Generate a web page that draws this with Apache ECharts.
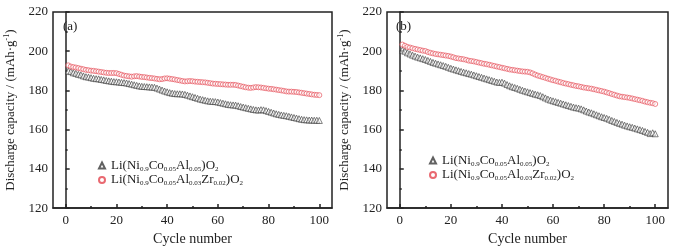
<!DOCTYPE html>
<html>
<head>
<meta charset="utf-8">
<script src="https://cdn.jsdelivr.net/npm/echarts@6/dist/echarts.min.js"></script>
<style>
  html, body { margin: 0; padding: 0; background: #fff; }
  #chart { width: 678px; height: 251px; }
</style>
</head>
<body>
<div id="chart"></div>
<script>
// ==================== 数据 ====================
const xTicks = [0, 20, 40, 60, 80, 100];
const xMinor = [10, 30, 50, 70, 90];

// (a) 面板
const aNCA = [
  189.9, 189.6, 189.0, 188.7, 188.2, 187.9, 187.4, 187.0, 186.8, 186.5,
  186.2, 186.0, 185.9, 185.6, 185.4, 185.1, 184.9, 184.7, 184.5, 184.4,
  184.3, 184.1, 184.0, 183.8, 183.5, 183.2, 182.9, 182.6, 182.3, 182.1,
  182.0, 181.9, 181.8, 181.7, 181.6, 181.2, 180.7, 180.2, 179.7, 179.3,
  178.9, 178.6, 178.4, 178.3, 178.3, 178.2, 178.0, 177.6, 177.2, 176.8,
  176.4, 176.0, 175.6, 175.3, 175.0, 174.7, 174.5, 174.4, 174.3, 174.1,
  173.8, 173.5, 173.2, 172.9, 172.7, 172.6, 172.5, 172.2, 171.8, 171.5,
  171.2, 170.9, 170.6, 170.3, 170.1, 170.0, 170.2, 170.1, 169.7, 169.3,
  168.9, 168.5, 168.1, 167.8, 167.5, 167.3, 167.1, 166.8, 166.5, 166.2,
  165.9, 165.6, 165.3, 165.1, 165.0, 164.9, 164.9, 164.8, 164.8, 164.7
];
const aNCAZ = [
  192.8, 192.2, 191.9, 191.7, 191.4, 191.1, 190.8, 190.5, 190.3, 190.1,
  190.0, 189.8, 189.6, 189.4, 189.2, 189.0, 188.9, 188.9, 188.9, 188.8,
  188.4, 188.0, 187.6, 187.4, 187.2, 187.0, 187.2, 187.3, 187.1, 186.9,
  186.8, 186.6, 186.4, 186.3, 186.1, 185.9, 185.7, 185.8, 186.1, 186.2,
  186.0, 185.8, 185.6, 185.3, 185.1, 184.8, 184.6, 184.7, 184.8, 184.7,
  184.5, 184.4, 184.3, 184.2, 184.1, 183.9, 183.7, 183.5, 183.4, 183.3,
  183.2, 183.1, 183.0, 182.9, 182.9, 182.9, 182.8, 182.5, 182.2, 181.9,
  181.6, 181.4, 181.3, 181.5, 181.7, 181.6, 181.5, 181.3, 181.1, 180.9,
  180.8, 180.6, 180.4, 180.2, 180.0, 179.8, 179.5, 179.4, 179.4, 179.3,
  179.2, 179.0, 178.8, 178.6, 178.4, 178.2, 178.0, 177.8, 177.7, 177.6
];

// (b) 面板
const bNCA = [
  200.6, 200.0, 199.2, 198.6, 198.0, 197.5, 197.0, 196.6, 196.2, 195.8,
  195.3, 194.8, 194.3, 193.9, 193.5, 193.1, 192.7, 192.3, 191.8, 191.3,
  190.9, 190.5, 190.1, 189.7, 189.3, 189.0, 188.6, 188.3, 187.9, 187.5,
  187.1, 186.7, 186.3, 185.9, 185.5, 185.1, 184.7, 184.3, 184.1, 184.2,
  183.7, 183.0, 182.4, 181.9, 181.5, 181.1, 180.6, 180.1, 179.7, 179.3,
  178.9, 178.5, 178.1, 177.8, 177.4, 176.8, 176.2, 175.6, 175.1, 174.7,
  174.3, 173.9, 173.5, 173.1, 172.7, 172.3, 171.9, 171.5, 171.2, 171.0,
  170.6, 170.1, 169.5, 169.0, 168.6, 168.1, 167.6, 167.1, 166.6, 166.2,
  165.8, 165.3, 164.7, 164.2, 163.7, 163.2, 162.8, 162.3, 161.9, 161.5,
  161.2, 160.8, 160.4, 160.0, 159.6, 159.1, 158.6, 158.0, 158.4, 157.9
];
const bNCAZ = [
  203.4, 202.8, 202.2, 201.9, 201.5, 201.2, 200.9, 200.6, 200.3, 200.1,
  199.6, 199.2, 198.9, 198.6, 198.4, 198.2, 198.0, 197.8, 197.6, 197.3,
  196.9, 196.5, 196.3, 196.1, 195.9, 195.6, 195.2, 195.0, 194.8, 194.5,
  194.2, 193.9, 193.6, 193.4, 193.1, 192.8, 192.5, 192.2, 191.9, 191.6,
  191.3, 191.0, 190.7, 190.5, 190.3, 190.1, 189.9, 189.7, 189.6, 189.5,
  189.2, 188.7, 188.1, 187.6, 187.2, 186.8, 186.4, 186.0, 185.6, 185.2,
  184.9, 184.5, 184.2, 183.8, 183.5, 183.2, 182.9, 182.6, 182.3, 182.1,
  181.8, 181.5, 181.3, 181.1, 180.9, 180.6, 180.3, 180.0, 179.7, 179.4,
  179.0, 178.6, 178.2, 177.8, 177.4, 177.0, 176.8, 176.6, 176.4, 176.2,
  175.9, 175.6, 175.3, 175.0, 174.7, 174.3, 174.0, 173.7, 173.5, 173.1
];

// ==================== 样式 ====================
const FONT = '"Liberation Serif", "DejaVu Serif", serif';
const BLACK = '#222';
const GREY = '#3a3a3a';
const RED = '#e4434e';

const LABELS = {
  NCA: 'Li(Ni{s|0.9}Co{s|0.05}Al{s|0.05})O{s|2}',
  NCAZ: 'Li(Ni{s|0.9}Co{s|0.05}Al{s|0.03}Zr{s|0.02})O{s|2}'
};

// 每个点：循环次数从 1 开始
const toPoints = arr => arr.map((v, i) => [i + 1, v]);

const grids = [
  { left: 53, top: 12, width: 279, height: 205 },
  { left: 387, top: 12, width: 281, height: 205 }
];

function xAxes(gi) {
  return [{
    type: 'value', gridIndex: gi, min: -5, max: 105,
    name: 'Cycle number', nameLocation: 'middle', nameGap: 22,
    nameTextStyle: { fontFamily: FONT, fontSize: 14, color: BLACK },
    axisLine: { onZero: false, lineStyle: { color: BLACK, width: 1.5 } },
    axisTick: { inside: true, length: 4, customValues: xTicks, lineStyle: { color: BLACK, width: 1.5 } },
    axisLabel: { customValues: xTicks, margin: 6, fontFamily: FONT, fontSize: 13, color: BLACK },
    splitLine: { show: false }
  }, {
    // 次刻度
    type: 'value', gridIndex: gi, min: -5, max: 105, position: 'bottom',
    axisLine: { show: false },
    axisTick: { inside: true, length: 2, customValues: xMinor, lineStyle: { color: BLACK, width: 1.5 } },
    axisLabel: { show: false },
    splitLine: { show: false }
  }];
}

function yAxis(gi) {
  return {
    type: 'value', gridIndex: gi, min: 120, max: 220, interval: 20,
    name: 'Discharge capacity / (mAh·g{sup|-1})',
    nameLocation: 'middle', nameGap: 35, nameRotate: 90,
    nameTextStyle: {
      fontFamily: FONT, fontSize: 13, color: BLACK,
      rich: { sup: { fontFamily: FONT, fontSize: 8, color: BLACK, padding: [0, 0, 7, 0] } }
    },
    axisLine: { lineStyle: { color: BLACK, width: 1.5 } },
    axisTick: { inside: true, length: 4, lineStyle: { color: BLACK, width: 1.5 } },
    minorTick: { show: true, splitNumber: 2, length: 2, lineStyle: { color: BLACK, width: 1.5 } },
    axisLabel: { margin: 5, fontFamily: FONT, fontSize: 13, color: BLACK },
    splitLine: { show: false }
  };
}

function scatter(name, data, gi, symbol, color) {
  return {
    name, type: 'scatter', xAxisIndex: gi * 2, yAxisIndex: gi,
    symbol, symbolSize: symbol === 'circle' ? 5 : 6,
    itemStyle: { color: 'rgba(255,255,255,0.6)', borderColor: color, borderWidth: 0.8 },
    data: toPoints(data)
  };
}

function legend(left, top) {
  return {
    left, top, orient: 'vertical', itemGap: 1, itemWidth: 6, itemHeight: 6,
    data: ['NCA', 'NCAZ'],
    formatter: name => LABELS[name],
    textStyle: {
      fontFamily: FONT, fontSize: 13, color: BLACK, padding: [0, 0, 0, 1],
      rich: { s: { fontFamily: FONT, fontSize: 7, color: BLACK, padding: [7, 0, 0, 0] } }
    }
  };
}

const chart = echarts.init(document.getElementById('chart'), null, { renderer: 'canvas' });
chart.setOption({
  backgroundColor: '#fff',
  animation: false,
  grid: grids.map(g => ({ ...g, show: true, borderColor: BLACK, borderWidth: 1.5, backgroundColor: 'transparent' })),
  xAxis: [...xAxes(0), ...xAxes(1)],
  yAxis: [yAxis(0), yAxis(1)],
  legend: [legend(93, 154), legend(424, 149)],
  series: [
    scatter('NCA', aNCA, 0, 'triangle', GREY),
    scatter('NCAZ', aNCAZ, 0, 'circle', RED),
    scatter('NCA', bNCA, 1, 'triangle', GREY),
    scatter('NCAZ', bNCAZ, 1, 'circle', RED)
  ],
  graphic: [
    { type: 'text', left: 63, top: 20, style: { text: '(a)', font: '13px ' + FONT, fill: BLACK } },
    { type: 'text', left: 396, top: 20, style: { text: '(b)', font: '13px ' + FONT, fill: BLACK } }
  ]
});
</script>
</body>
</html>
